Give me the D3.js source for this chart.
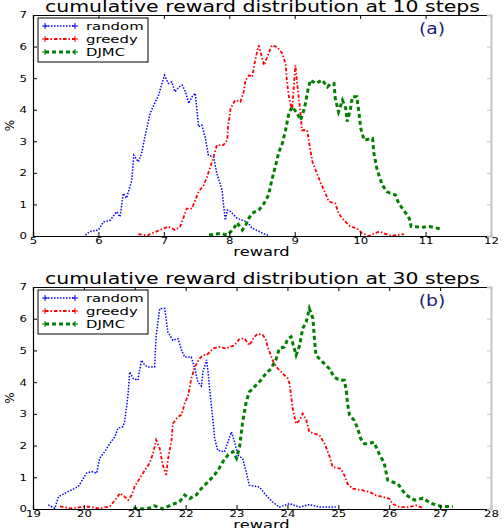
<!DOCTYPE html>
<html>
<head>
<meta charset="utf-8">
<script src="https://cdn.jsdelivr.net/npm/d3@7"></script>
<style>
  body { margin: 0; background: #fff; }
  text { font-family: "DejaVu Sans", sans-serif; }
</style>
</head>
<body>
<svg id="chart" width="504" height="528"></svg>
<script>
// reward histograms: [reward, %]
const random10 = [[5.80,0.03],[5.87,0.14],[6.00,0.19],[6.08,0.45],[6.18,0.50],[6.28,0.77],[6.33,0.61],[6.38,1.35],[6.43,1.20],[6.51,1.77],[6.54,2.56],[6.61,2.35],[6.66,2.62],[6.71,3.14],[6.79,3.88],[6.87,4.25],[6.92,4.46],[6.97,4.83],[7.01,5.09],[7.07,4.83],[7.12,4.88],[7.17,4.57],[7.23,4.72],[7.28,4.78],[7.33,4.57],[7.38,4.20],[7.43,4.41],[7.48,4.52],[7.53,3.46],[7.58,3.51],[7.63,3.14],[7.68,2.56],[7.76,2.50],[7.81,1.98],[7.89,1.46],[7.91,1.03],[7.94,0.50],[7.97,0.82],[8.02,0.77],[8.12,0.56],[8.20,0.50],[8.27,0.45],[8.35,0.25],[8.45,0.15],[8.55,0.05],[8.60,0.02]];
const greedy10 = [[6.61,0.06],[6.75,0.02],[6.94,0.19],[7.07,0.30],[7.17,0.19],[7.25,0.30],[7.35,0.87],[7.43,0.87],[7.48,1.14],[7.53,1.40],[7.61,1.61],[7.66,1.88],[7.71,2.19],[7.76,2.50],[7.81,2.88],[7.91,2.88],[7.97,3.04],[7.98,3.46],[8.00,3.72],[8.02,4.04],[8.09,4.30],[8.17,4.25],[8.22,4.57],[8.25,4.94],[8.30,5.09],[8.35,5.04],[8.40,5.62],[8.45,6.04],[8.53,5.41],[8.58,5.67],[8.65,6.04],[8.73,5.99],[8.81,5.78],[8.86,5.46],[8.88,4.94],[8.91,4.41],[8.96,3.99],[9.01,5.41],[9.04,4.78],[9.09,3.88],[9.11,3.35],[9.19,3.35],[9.24,2.72],[9.27,2.35],[9.32,2.09],[9.40,1.67],[9.47,1.35],[9.52,1.09],[9.62,1.03],[9.67,0.72],[9.75,0.50],[9.85,0.30],[9.95,0.24],[10.03,0.09],[10.13,0.00],[10.29,0.14],[10.47,0.00],[10.67,0.06]];
const djmc10 = [[7.69,0.03],[7.86,0.08],[7.97,0.03],[8.07,0.24],[8.12,0.42],[8.20,0.19],[8.25,0.35],[8.30,0.56],[8.35,0.72],[8.45,0.82],[8.53,1.03],[8.60,1.30],[8.65,1.77],[8.71,2.25],[8.76,2.67],[8.81,2.93],[8.86,3.35],[8.91,3.88],[8.96,4.09],[9.04,3.88],[9.09,3.67],[9.14,3.99],[9.17,4.25],[9.19,4.52],[9.24,4.94],[9.32,4.83],[9.42,4.94],[9.50,4.72],[9.55,4.83],[9.60,4.83],[9.62,4.36],[9.67,3.93],[9.73,4.30],[9.78,4.04],[9.80,3.62],[9.85,3.99],[9.88,4.41],[9.95,4.41],[9.98,3.93],[10.01,3.41],[10.06,3.04],[10.19,3.09],[10.21,2.62],[10.26,2.09],[10.34,1.61],[10.41,1.40],[10.54,1.30],[10.59,1.03],[10.70,0.72],[10.75,0.56],[10.78,0.30],[10.96,0.28],[11.06,0.30],[11.24,0.22]];

const random30 = [[19.30,0.13],[19.43,0.02],[19.50,0.39],[19.63,0.50],[19.76,0.60],[19.89,0.71],[19.95,0.86],[20.05,1.13],[20.15,1.18],[20.25,1.13],[20.31,1.60],[20.41,1.81],[20.51,2.07],[20.61,2.28],[20.67,2.55],[20.77,2.60],[20.80,2.76],[20.84,3.23],[20.87,3.65],[20.90,4.32],[20.97,4.11],[21.06,4.06],[21.13,4.69],[21.20,4.53],[21.26,4.48],[21.33,4.48],[21.39,4.48],[21.42,5.48],[21.49,6.32],[21.59,6.32],[21.65,5.58],[21.75,5.32],[21.85,5.37],[21.92,5.00],[21.98,4.79],[22.11,4.79],[22.18,4.43],[22.24,4.00],[22.31,3.88],[22.34,4.32],[22.41,4.70],[22.44,4.32],[22.47,3.80],[22.54,2.74],[22.57,2.22],[22.63,1.85],[22.76,1.80],[22.83,2.11],[22.90,2.43],[22.96,2.11],[23.03,1.69],[23.12,1.59],[23.19,1.17],[23.25,0.75],[23.45,0.69],[23.58,0.43],[23.71,0.22],[23.84,0.06],[24.04,0.17],[24.24,0.06],[24.43,0.14],[24.63,0.06],[24.95,0.06]];
const greedy30 = [[19.53,0.08],[19.73,0.02],[20.05,0.08],[20.31,0.02],[20.51,0.08],[20.64,0.34],[20.71,0.50],[20.80,0.39],[20.87,0.28],[20.94,0.44],[21.00,0.71],[21.10,0.97],[21.20,1.23],[21.29,1.44],[21.36,1.76],[21.42,2.18],[21.49,1.91],[21.55,1.39],[21.62,1.07],[21.65,1.55],[21.72,2.13],[21.75,2.70],[21.85,2.91],[21.92,2.97],[21.98,3.33],[22.05,3.59],[22.11,4.11],[22.18,4.48],[22.27,4.74],[22.34,4.85],[22.41,4.85],[22.54,5.06],[22.67,5.11],[22.80,5.06],[22.86,5.11],[22.96,5.16],[23.06,5.37],[23.16,5.37],[23.25,5.16],[23.35,5.43],[23.42,5.53],[23.52,5.48],[23.58,5.32],[23.61,5.11],[23.65,4.95],[23.71,4.69],[23.78,4.48],[23.91,4.27],[24.01,4.11],[24.04,3.96],[24.07,3.59],[24.11,3.11],[24.17,2.69],[24.24,2.80],[24.30,3.01],[24.37,2.80],[24.43,2.43],[24.53,2.38],[24.63,2.33],[24.73,2.06],[24.82,1.69],[24.89,1.32],[25.05,1.27],[25.12,1.06],[25.18,0.80],[25.28,0.64],[25.48,0.59],[25.61,0.54],[25.74,0.43],[25.87,0.38],[26.00,0.33],[26.06,0.17],[26.20,0.06],[26.39,0.06],[26.52,0.12],[26.65,0.04]];
const djmc30 = [[20.97,0.02],[21.23,0.00],[21.39,0.10],[21.55,0.00],[21.72,0.13],[21.88,0.23],[21.98,0.44],[22.08,0.33],[22.21,0.45],[22.31,0.65],[22.41,0.81],[22.54,1.02],[22.64,1.23],[22.73,1.49],[22.83,1.70],[22.93,1.81],[23.00,1.60],[23.06,1.96],[23.12,2.74],[23.19,3.38],[23.25,3.69],[23.35,3.85],[23.45,4.01],[23.55,4.22],[23.68,4.43],[23.78,4.74],[23.84,5.06],[23.94,5.11],[24.01,5.37],[24.07,5.43],[24.17,4.85],[24.24,5.16],[24.30,5.69],[24.37,5.90],[24.43,6.32],[24.50,6.01],[24.53,5.37],[24.56,4.85],[24.69,4.64],[24.82,4.43],[24.92,4.16],[25.02,4.06],[25.12,4.06],[25.16,3.69],[25.18,3.33],[25.22,2.96],[25.31,2.80],[25.38,2.54],[25.44,2.22],[25.51,2.06],[25.60,2.06],[25.70,2.11],[25.80,1.75],[25.90,1.45],[25.97,0.91],[26.17,0.79],[26.33,0.44],[26.50,0.28],[26.66,0.34],[26.82,0.18],[27.02,0.08],[27.25,0.08]];

const seriesNames = ['random', 'greedy', 'DJMC'];
const yTicks = [0, 1, 2, 3, 4, 5, 6, 7];
const ticks10 = [5, 6, 7, 8, 9, 10, 11, 12];
const ticks30 = [19, 20, 21, 22, 23, 24, 25, 26, 27, 28];

const STYLES = {
  random: { color: '#0000ff', width: 1.5, dash: '1.5,1.5' },
  greedy: { color: '#ff0000', width: 1.8, dash: '3.5,2,1.5,2' },
  DJMC: { color: '#008000', width: 3, dash: '4,3' },
};

const panels = [
  { title: 'cumulative reward distribution at 10 steps', tag: '(a)', xTicks: ticks10,
    series: [random10, greedy10, djmc10], top: 15, bottom: 236 },
  { title: 'cumulative reward distribution at 30 steps', tag: '(b)', xTicks: ticks30,
    series: [random30, greedy30, djmc30], top: 287, bottom: 509 },
];

const LEFT = 33, RIGHT = 491;
const svg = d3.select('#chart');
const intFmt = d3.format('d');

// the source image is stretched sideways, so widen glyphs to match
function stretch(sel, k) {
  sel.each(function () {
    const w = this.getComputedTextLength();
    d3.select(this).attr('textLength', w * k).attr('lengthAdjust', 'spacingAndGlyphs');
  });
}

function styleAxis(g, color) {
  g.attr('font-size', 9).attr('font-family', '"DejaVu Sans", sans-serif');
  g.select('.domain').attr('stroke', color).attr('stroke-width', 1.2);
  g.selectAll('.tick line').attr('stroke', color);
  g.selectAll('.tick text').attr('fill', '#000');
}

panels.forEach((p) => {
  const x = d3.scaleLinear().domain(d3.extent(p.xTicks)).range([LEFT, RIGHT]);
  const y = d3.scaleLinear().domain([0, 7]).range([p.bottom, p.top]);
  const g = svg.append('g');

  // curves
  const line = d3.line().x((d) => x(d[0])).y((d) => y(d[1]));
  p.series.forEach((data, i) => {
    const s = STYLES[seriesNames[i]];
    g.append('path')
      .datum(data)
      .attr('fill', 'none')
      .attr('stroke', s.color)
      .attr('stroke-width', s.width)
      .attr('stroke-dasharray', s.dash)
      .attr('d', line);
  });

  // spines + inward ticks
  const left = g.append('g').attr('transform', `translate(${LEFT},0)`)
    .call(d3.axisLeft(y).tickValues(yTicks).tickFormat(intFmt).tickSize(-4).tickPadding(6));
  styleAxis(left, '#000');
  const bottom = g.append('g').attr('transform', `translate(0,${p.bottom})`)
    .call(d3.axisBottom(x).tickValues(p.xTicks).tickFormat(intFmt).tickSize(-4).tickPadding(2));
  styleAxis(bottom, '#000');
  const top = g.append('g').attr('transform', `translate(0,${p.top})`)
    .call(d3.axisTop(x).tickValues(p.xTicks).tickSize(-4).tickFormat(''));
  styleAxis(top, '#000');
  const right = g.append('g').attr('transform', `translate(${RIGHT},0)`)
    .call(d3.axisRight(y).tickValues(yTicks).tickSize(-4).tickFormat(''));
  styleAxis(right, '#c4c4c4');
  right.select('.domain').attr('stroke-width', 2);
  [left, bottom].forEach((a) => stretch(a.selectAll('.tick text'), 1.3));

  // title
  g.append('text')
    .attr('x', 262.5).attr('y', p.top - 3)
    .attr('text-anchor', 'middle')
    .attr('font-size', 15.5)
    .attr('textLength', 435).attr('lengthAdjust', 'spacingAndGlyphs')
    .text(p.title);

  // panel tag
  const tag = g.append('text')
    .attr('x', 432).attr('y', p.top + 18.5)
    .attr('text-anchor', 'middle')
    .attr('font-size', 15)
    .attr('fill', '#1c1c78')
    .text(p.tag);
  stretch(tag, 1.25);

  // axis labels
  const xl = g.append('text')
    .attr('x', 261.5).attr('y', p.bottom + 20)
    .attr('text-anchor', 'middle')
    .attr('font-size', 13)
    .text('reward');
  stretch(xl, 1.25);

  g.append('text')
    .attr('transform', `translate(14,${(p.top + p.bottom) / 2}) rotate(-90)`)
    .attr('text-anchor', 'middle')
    .attr('font-size', 12)
    .text('%');

  // legend
  const lg = g.append('g').attr('transform', `translate(38,${p.top + 3})`);
  lg.append('rect')
    .attr('width', 110).attr('height', 44)
    .attr('fill', '#fff').attr('stroke', '#000').attr('stroke-width', 1);
  seriesNames.forEach((name, i) => {
    const s = STYLES[name];
    const ly = 8 + i * 13;
    lg.append('line')
      .attr('x1', 7).attr('x2', 37).attr('y1', ly).attr('y2', ly)
      .attr('stroke', s.color).attr('stroke-width', s.width)
      .attr('stroke-dasharray', s.dash);
    [7, 37].forEach((mx) => {
      lg.append('path')
        .attr('d', `M${mx - 3},${ly}h6M${mx},${ly - 3}v6`)
        .attr('stroke', s.color).attr('stroke-width', 1);
    });
    const t = lg.append('text')
      .attr('x', 48).attr('y', ly + 4)
      .attr('font-size', 11)
      .text(name);
    stretch(t, 1.35);
  });
});
</script>
</body>
</html>
